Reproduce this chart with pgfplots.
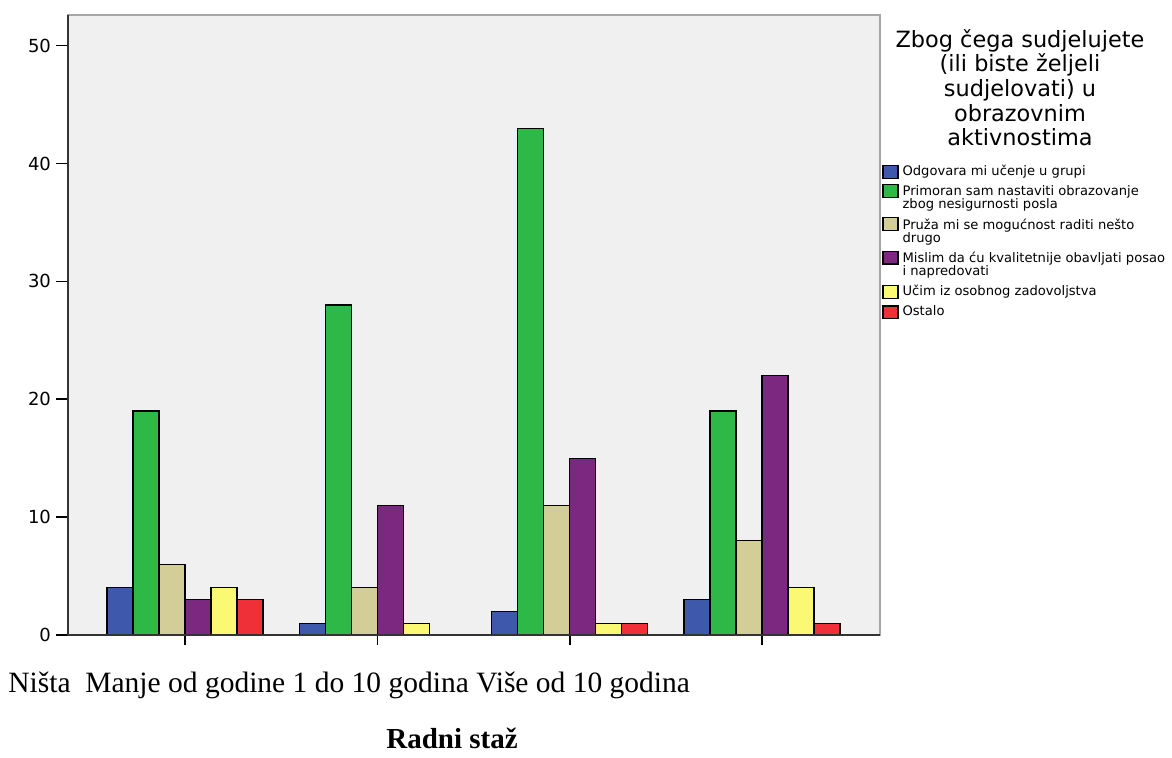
\documentclass[border=0pt]{standalone}
\usepackage{pgfplots}
\pgfplotsset{compat=1.18}
\usepackage{fontspec}
\setmainfont{DejaVu Sans}
\newfontfamily\serif{Liberation Serif}
\definecolor{cblue}{HTML}{3E58AC}
\definecolor{cgreen}{HTML}{2EB848}
\definecolor{ctan}{HTML}{D3CE97}
\definecolor{cpurple}{HTML}{7D2880}
\definecolor{cyellow}{HTML}{FBF873}
\definecolor{cred}{HTML}{EF3038}
\definecolor{bgc}{HTML}{F0F0F0}
\begin{document}
\begin{tikzpicture}
\useasboundingbox (0,0) rectangle (586pt,378.5pt);
\begin{axis}[
  at={(34pt,61pt)}, anchor=south west,
  scale only axis, width=406pt, height=310pt,
  ybar=0pt, bar width=13pt,
  xmin=-0.608, xmax=3.613, ymin=0, ymax=52.6,
  xtick={0,1,2,3}, xticklabels={},
  ytick={0,10,...,50},
  tick pos=left, tick align=outside,
  major tick length=6pt,
  xtick style={black, line width=0.8pt, /pgfplots/major tick length=5pt},
  ytick style={black, line width=0.8pt},
  axis background/.style={fill=bgc},
  axis line style={draw=gray!70, line width=0.6pt},
  tick label style={font=\fontsize{9}{10}\selectfont},
  yticklabel style={xshift=1pt},
  /pgf/number format/assume math mode=true,
  legend style={at={(1,0.765)}, anchor=north west, draw=none, fill=none,
    font=\fontsize{6.55}{6.5}\selectfont, cells={align=left}, row sep=-0.5pt,
    inner xsep=1pt, inner ysep=0pt},
  legend cell align=left,
  legend image code/.code={\draw[#1, draw=black, line width=0.6pt] (0pt,-3.2pt) rectangle (7.5pt,3.2pt);},
  every axis plot/.append style={draw=black, line width=0.6pt},
  after end axis/.code={\draw[line width=1pt, black!80] (rel axis cs:0,1) -- (rel axis cs:0,0) -- (rel axis cs:1,0);},
]
\addplot[fill=cblue] coordinates {(0,4) (1,1) (2,2) (3,3)};
\addlegendentry{Odgovara mi učenje u grupi}
\addplot[fill=cgreen, legend image post style={yshift=3.8pt}] coordinates {(0,19) (1,28) (2,43) (3,19)};
\addlegendentry{Primoran sam nastaviti obrazovanje\\[0pt]zbog nesigurnosti posla}
\addplot[fill=ctan, legend image post style={yshift=3.8pt}] coordinates {(0,6) (1,4) (2,11) (3,8)};
\addlegendentry{Pruža mi se mogućnost raditi nešto\\[0pt]drugo}
\addplot[fill=cpurple, legend image post style={yshift=3.8pt}] coordinates {(0,3) (1,11) (2,15) (3,22)};
\addlegendentry{Mislim da ću kvalitetnije obavljati posao\\[0pt]i napredovati}
\addplot[fill=cyellow] coordinates {(0,4) (1,1) (2,1) (3,4)};
\addlegendentry{Učim iz osobnog zadovoljstva}
\addplot[fill=cred] coordinates {(0,3) (2,1) (3,1)};
\addlegendentry{Ostalo}
\end{axis}
\node[anchor=north, align=center, inner sep=0pt, font=\fontsize{11.2}{12.3}\selectfont] at (510pt,364pt)
  {Zbog čega sudjelujete\\(ili biste željeli\\sudjelovati) u\\obrazovnim\\aktivnostima};
\node[anchor=west, inner sep=0pt, font=\serif\fontsize{14.75}{16}\selectfont] at (4pt,36pt)
  {Ništa\ \ Manje od godine 1 do 10 godina Više od 10 godina};
\node[inner sep=0pt, font=\serif\bfseries\fontsize{14.5}{16}\selectfont] at (226pt,9.5pt) {Radni staž};
\end{tikzpicture}
\end{document}
